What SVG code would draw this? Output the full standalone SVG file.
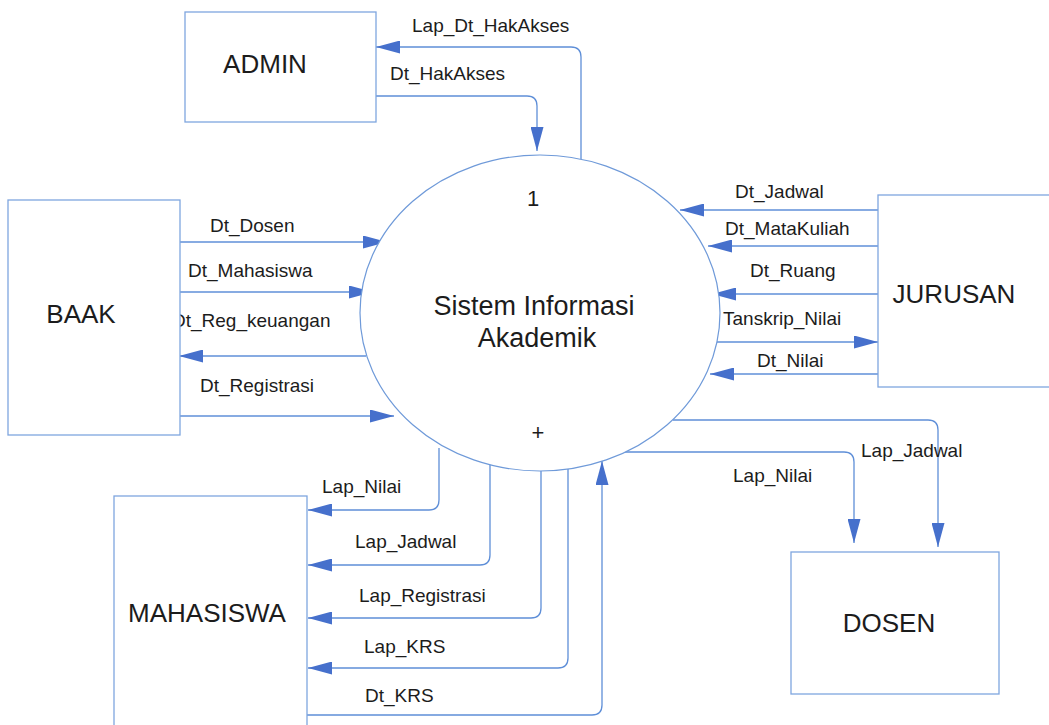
<svg xmlns="http://www.w3.org/2000/svg" width="1049" height="725" viewBox="0 0 1049 725">
<style>
.box{fill:#fff;stroke:#7fa6df;stroke-width:1.3}
.proc{fill:#fff;stroke:#6f9ad9;stroke-width:1.2}
.flow{fill:none;stroke:#5f8fd8;stroke-width:1.3;marker-end:url(#ah)}
.ent{font-family:"Liberation Sans",Arial,sans-serif;font-size:26px;fill:#1c1c1c;text-anchor:middle}
.lbl{font-family:"Liberation Sans",Arial,sans-serif;font-size:19px;fill:#1c1c1c}
.ptxt{font-family:"Liberation Sans",Arial,sans-serif;font-size:27px;fill:#1c1c1c;text-anchor:middle}
</style>
<defs>
<marker id="ah" markerUnits="userSpaceOnUse" markerWidth="25" markerHeight="13" refX="24" refY="6.5" orient="auto">
<path d="M0,0 L24,6.5 L0,13 Z" fill="#4670cc"/>
</marker>
</defs>
<rect width="1049" height="725" fill="#fff"/>

<g id="connectors">
<path class="flow" d="M581,159 V57 Q581,47 571,47 H376"/>
<path class="flow" d="M371,96 H527 Q537,96 537,106 V151"/>
<path class="flow" d="M878,210 H680"/>
<path class="flow" d="M878,246 H708"/>
<path class="flow" d="M878,294 H712"/>
<path class="flow" d="M716,342 H878"/>
<path class="flow" d="M878,374 H710"/>
<path class="flow" d="M180,242 H387"/>
<path class="flow" d="M180,292 H373"/>
<path class="flow" d="M366,356 H179"/>
<path class="flow" d="M180,416 H394"/>
<path class="flow" d="M439,448 V500 Q439,510 429,510 H308"/>
<path class="flow" d="M490,465 V555 Q490,565 480,565 H308"/>
<path class="flow" d="M541,471 V608 Q541,618 531,618 H308"/>
<path class="flow" d="M568,469 V658 Q568,668 558,668 H308"/>
<path class="flow" d="M307,715 H592 Q602,715 602,705 V461"/>
<path class="flow" d="M673,420 H928 Q938,420 938,430 V547"/>
<path class="flow" d="M625,452 H844 Q854,452 854,462 V543"/>
<text class="lbl" x="412" y="32">Lap_Dt_HakAkses</text>
<text class="lbl" x="390" y="80">Dt_HakAkses</text>
<text class="lbl" x="735" y="198">Dt_Jadwal</text>
<text class="lbl" x="725" y="235">Dt_MataKuliah</text>
<text class="lbl" x="750" y="277">Dt_Ruang</text>
<text class="lbl" x="723" y="325">Tanskrip_Nilai</text>
<text class="lbl" x="757" y="367">Dt_Nilai</text>
<text class="lbl" x="210" y="232">Dt_Dosen</text>
<text class="lbl" x="188" y="277">Dt_Mahasiswa</text>
<text class="lbl" x="172" y="327">Dt_Reg_keuangan</text>
<text class="lbl" x="200" y="392">Dt_Registrasi</text>
<text class="lbl" x="322" y="493">Lap_Nilai</text>
<text class="lbl" x="355" y="548">Lap_Jadwal</text>
<text class="lbl" x="359" y="602">Lap_Registrasi</text>
<text class="lbl" x="364" y="653">Lap_KRS</text>
<text class="lbl" x="365" y="702">Dt_KRS</text>
<text class="lbl" x="861" y="457">Lap_Jadwal</text>
<text class="lbl" x="733" y="482">Lap_Nilai</text>
</g>

<g id="process-1">
<ellipse class="proc" cx="540" cy="313" rx="180" ry="158"/>
<text class="ptxt" x="533" y="206" style="font-size:22px">1</text>
<text class="ptxt" x="534" y="315">Sistem Informasi</text>
<text class="ptxt" x="537" y="347">Akademik</text>
<text class="ptxt" x="538" y="440" style="font-size:22px">+</text>
</g>

<g id="admin">
<rect class="box" x="185" y="12" width="191" height="110"/>
<text class="ent" x="265" y="73">ADMIN</text>
</g>
<g id="baak">
<rect class="box" x="8" y="200" width="172" height="235"/>
<text class="ent" x="81" y="323">BAAK</text>
</g>
<g id="jurusan">
<rect class="box" x="878" y="195" width="190" height="192"/>
<text class="ent" x="954" y="303">JURUSAN</text>
</g>
<g id="mahasiswa">
<rect class="box" x="114" y="496" width="193" height="240"/>
<text class="ent" x="207" y="622">MAHASISWA</text>
</g>
<g id="dosen">
<rect class="box" x="791" y="552" width="208" height="142"/>
<text class="ent" x="889" y="632">DOSEN</text>
</g>
</svg>
